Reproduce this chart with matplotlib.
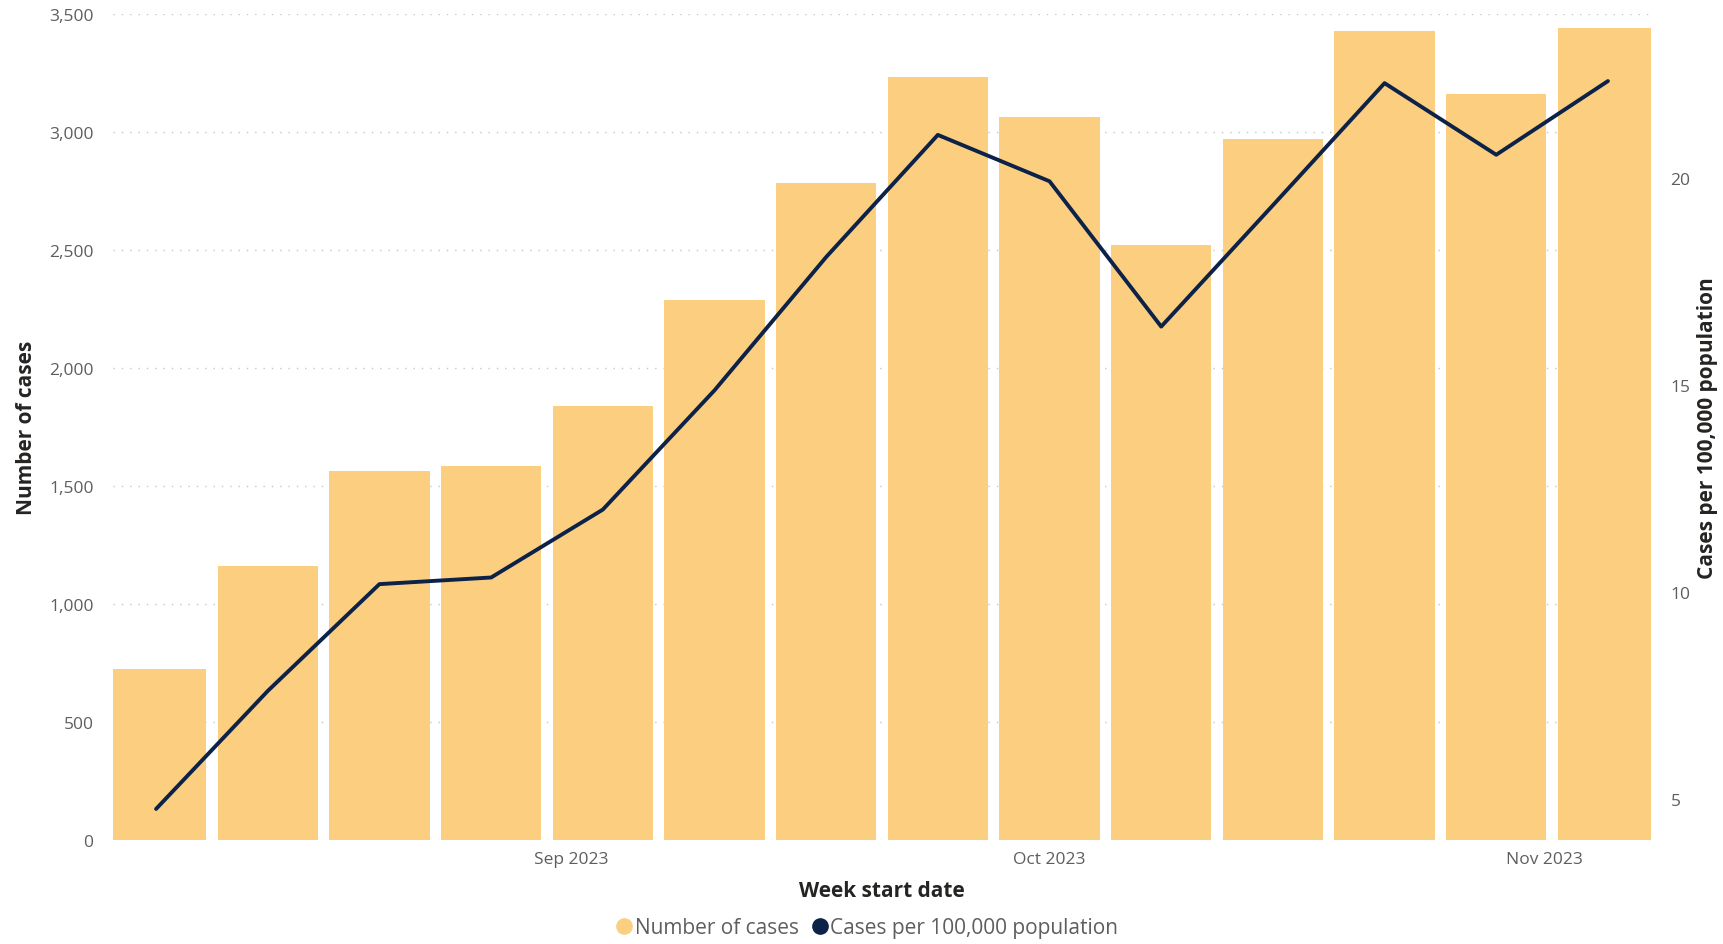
import matplotlib.pyplot as plt
import matplotlib.dates as mdates
from matplotlib.lines import Line2D
import numpy as np
import pandas as pd

plt.rcParams['font.family'] = ['Open Sans', 'DejaVu Sans']

# Weekly data (week start = Sunday)
week_start = pd.date_range("2023-08-06", periods=14, freq="7D")
cases = [724, 1163, 1565, 1584, 1841, 2290, 2785, 3234, 3065, 2523, 2972, 3430, 3163, 3439]
rate = [4.76, 7.61, 10.19, 10.35, 11.99, 14.87, 18.09, 21.04, 19.92, 16.41, 19.34, 22.29, 20.56, 22.34]

bar_color = "#FCCF80"
line_color = "#0D2248"
tick_color = "#605E5C"
title_color = "#252423"

fig = plt.figure(figsize=(17.24, 9.45), dpi=100)
ax = fig.add_axes([113 / 1724, 1 - 841 / 945, (1651 - 113) / 1724, (841 - 15) / 945])
ax2 = ax.twinx()

ax.bar(week_start, cases, width=6.3, color=bar_color, zorder=2)
ax2.plot(week_start, rate, color=line_color, lw=2.8, solid_capstyle="round", zorder=3)

# axes ranges
ax.set_xlim(week_start[0] - pd.Timedelta(days=2.7), week_start[-1] + pd.Timedelta(days=2.7))
ax.set_ylim(0, 3500)
ax.set_yticks(np.arange(0, 3501, 500))
ax.yaxis.set_major_formatter(plt.FuncFormatter(lambda v, p: f"{int(v):,}"))
ax2.set_ylim(4.01, 23.96)
ax2.set_yticks([5, 10, 15, 20])

ax.xaxis.set_major_locator(mdates.MonthLocator())
ax.xaxis.set_major_formatter(mdates.DateFormatter("%b %Y"))

ax.grid(axis="y", linestyle=(0, (1, 5)), color="#C8C6C4", lw=1, zorder=0)
ax.set_axisbelow(True)

for a in (ax, ax2):
    for s in a.spines.values():
        s.set_visible(False)
    a.tick_params(length=0, labelsize=12.5, labelcolor=tick_color)
ax.tick_params(axis="y", pad=14)
ax.tick_params(axis="x", pad=8)
ax2.tick_params(axis="y", pad=14)

ax.set_xlabel("Week start date", fontsize=15, fontweight="bold", color=title_color, labelpad=9)
ax.set_ylabel("Number of cases", fontsize=15, fontweight="bold", color=title_color)
ax2.set_ylabel("Cases per 100,000 population", fontsize=15, fontweight="bold", color=title_color)
ax.yaxis.set_label_coords((37 - 113) / 1538, 0.5)
ax2.yaxis.set_label_coords((1697 - 113) / 1538, 0.5)

handles = [
    Line2D([], [], marker="o", ls="none", color=bar_color, markersize=11, label="Number of cases"),
    Line2D([], [], marker="o", ls="none", color=line_color, markersize=11, label="Cases per 100,000 population"),
]
fig.legend(handles=handles, loc="center", bbox_to_anchor=(866 / 1724, 1 - 929 / 945), ncol=2,
           frameon=False, fontsize=15, labelcolor=tick_color, handletextpad=0.0, columnspacing=0.5,
           handlelength=1.0)

fig.savefig("out.png", dpi=100)
